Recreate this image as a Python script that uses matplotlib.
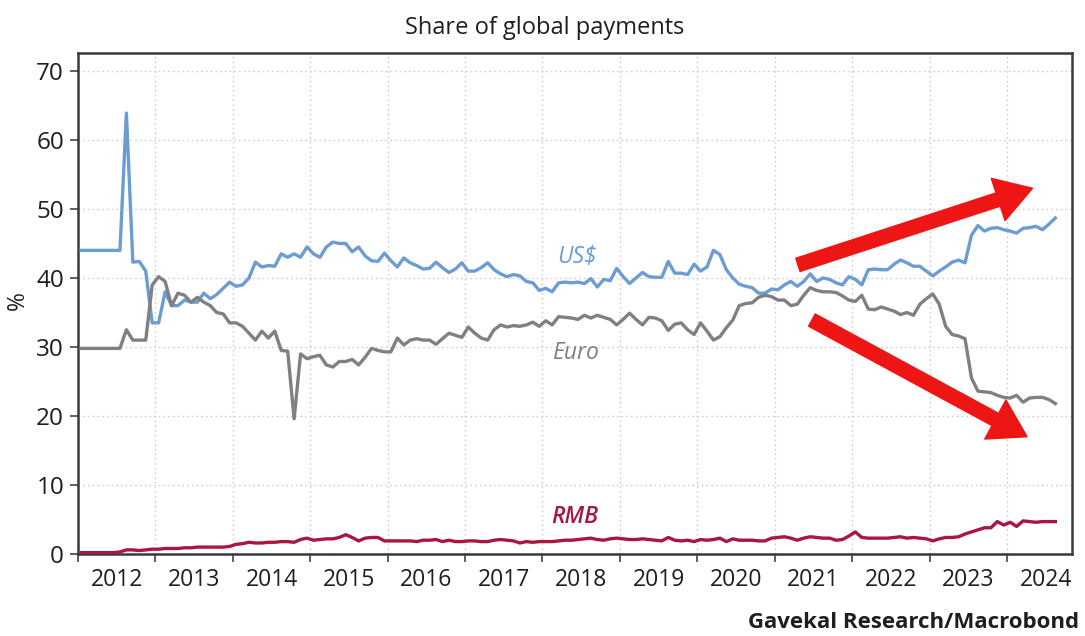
import numpy as np
import matplotlib.pyplot as plt
from matplotlib.ticker import FixedLocator, NullFormatter

plt.rcParams['font.family'] = ['Open Sans', 'DejaVu Sans']

# monthly shares (%), Jan 2012 .. Aug 2024, one row per year
usd = [
    44.0, 44.0, 44.0, 44.0, 44.0, 44.0, 44.0, 63.9, 42.3, 42.4, 41.0, 33.5,
    33.5, 38.0, 36.0, 36.0, 36.8, 36.5, 36.5, 37.8, 37.0, 37.6, 38.5, 39.4,
    38.8, 39.0, 40.0, 42.3, 41.6, 41.8, 41.7, 43.5, 43.0, 43.5, 43.0, 44.5,
    43.5, 43.0, 44.5, 45.2, 45.0, 45.0, 43.8, 44.5, 43.2, 42.5, 42.4, 43.6,
    42.5, 41.6, 42.9, 42.2, 41.8, 41.3, 41.4, 42.3, 41.5, 40.8, 41.3, 42.2,
    41.0, 41.0, 41.5, 42.2, 41.2, 40.6, 40.2, 40.5, 40.3, 39.5, 39.3, 38.2,
    38.5, 38.0, 39.3, 39.4, 39.3, 39.4, 39.2, 39.9, 38.7, 39.8, 39.6, 41.4,
    40.2, 39.2, 40.0, 40.8, 40.2, 40.1, 40.1, 42.4, 40.7, 40.7, 40.5, 42.0,
    41.0, 41.6, 44.0, 43.4, 41.2, 40.0, 39.1, 38.8, 38.6, 37.8, 37.8, 38.4,
    38.3, 39.0, 39.5, 38.8, 39.5, 40.6, 39.5, 40.0, 39.8, 39.3, 39.0, 40.2,
    39.8, 39.0, 41.2, 41.3, 41.2, 41.2, 42.0, 42.6, 42.2, 41.7, 41.7, 41.0,
    40.3, 41.0, 41.6, 42.3, 42.6, 42.2, 46.2, 47.6, 46.8, 47.2, 47.3, 47.0,
    46.8, 46.5, 47.2, 47.3, 47.5, 47.0, 47.8, 48.7,
]
eur = [
    29.8, 29.8, 29.8, 29.8, 29.8, 29.8, 29.8, 32.5, 31.0, 31.0, 31.0, 39.0,
    40.2, 39.5, 36.0, 37.8, 37.5, 36.5, 37.2, 36.5, 36.0, 35.0, 34.8, 33.5,
    33.5, 33.0, 32.0, 31.0, 32.3, 31.3, 32.3, 29.5, 29.4, 19.6, 29.0, 28.3,
    28.6, 28.8, 27.4, 27.1, 27.9, 27.9, 28.2, 27.4, 28.5, 29.8, 29.5, 29.3,
    29.3, 31.3, 30.3, 31.0, 31.2, 31.0, 31.0, 30.4, 31.2, 32.0, 31.7, 31.4,
    32.9, 32.0, 31.3, 31.0, 32.5, 33.2, 32.9, 33.1, 33.0, 33.2, 33.6, 33.0,
    33.8, 33.2, 34.4, 34.3, 34.2, 34.0, 34.6, 34.2, 34.6, 34.3, 34.0, 33.2,
    34.0, 34.9, 34.0, 33.2, 34.3, 34.2, 33.8, 32.4, 33.3, 33.5, 32.5, 31.8,
    33.5, 32.3, 31.0, 31.5, 32.8, 33.9, 36.0, 36.3, 36.4, 37.2, 37.5, 37.3,
    36.8, 36.8, 36.0, 36.2, 37.5, 38.6, 38.2, 38.0, 38.0, 37.9, 37.4, 36.8,
    36.6, 37.5, 35.5, 35.4, 35.8, 35.5, 35.2, 34.7, 35.0, 34.6, 36.2, 37.0,
    37.7, 36.2, 33.0, 31.8, 31.6, 31.2, 25.5, 23.6, 23.5, 23.4, 23.0, 22.7,
    22.6, 23.0, 22.0, 22.6, 22.7, 22.7, 22.4, 21.8,
]
rmb = [
    0.2, 0.2, 0.2, 0.2, 0.2, 0.2, 0.3, 0.6, 0.6, 0.5, 0.6, 0.7,
    0.7, 0.8, 0.8, 0.8, 0.9, 0.9, 1.0, 1.0, 1.0, 1.0, 1.0, 1.1,
    1.4, 1.5, 1.7, 1.6, 1.6, 1.7, 1.7, 1.8, 1.8, 1.7, 2.1, 2.3,
    2.0, 2.1, 2.2, 2.2, 2.4, 2.8, 2.4, 1.9, 2.3, 2.4, 2.4, 1.9,
    1.9, 1.9, 1.9, 1.9, 1.8, 2.0, 2.0, 2.1, 1.8, 2.0, 1.8, 1.8,
    1.9, 1.9, 1.8, 1.8, 2.0, 2.1, 2.0, 1.9, 1.6, 1.8, 1.7, 1.8,
    1.8, 1.8, 1.9, 2.0, 2.0, 2.1, 2.2, 2.3, 2.1, 2.0, 2.2, 2.3,
    2.2, 2.1, 2.1, 2.2, 2.1, 2.0, 1.9, 2.4, 2.0, 1.9, 2.0, 1.8,
    2.1, 2.0, 2.1, 2.3, 1.8, 2.2, 2.0, 2.0, 2.0, 1.9, 1.9, 2.3,
    2.4, 2.5, 2.3, 2.0, 2.3, 2.5, 2.4, 2.3, 2.3, 2.0, 2.1, 2.6,
    3.2, 2.4, 2.3, 2.3, 2.3, 2.3, 2.4, 2.5, 2.3, 2.4, 2.3, 2.2,
    1.9, 2.2, 2.4, 2.4, 2.5, 2.9, 3.2, 3.5, 3.8, 3.8, 4.7, 4.2,
    4.6, 4.0, 4.8, 4.7, 4.6, 4.7, 4.7, 4.7,
]
years = list(range(2012, 2025))
y_ticks = [0, 10, 20, 30, 40, 50, 60, 70]

c_usd = '#6b9cd2'
c_eur = '#808080'
c_rmb = '#a8173f'
c_arrow = '#ee1515'
c_text = '#1e1e1e'

# months plotted at mid-month
t = 2012 + (np.arange(len(usd)) + 0.5) / 12

fig = plt.figure(figsize=(10.85, 6.36), dpi=100)
ax = fig.add_axes([0.0719, 0.1289, 0.9161, 0.7877])

ax.plot(t, usd, color=c_usd, lw=2.4, zorder=3)
ax.plot(t, eur, color=c_eur, lw=2.4, zorder=3)
ax.plot(t, rmb, color=c_rmb, lw=2.4, zorder=3)

ax.set_xlim(2012, 2024.84)
ax.set_ylim(0, 72.6)

# year boundaries carry the tick marks, mid-year positions carry the labels
ax.xaxis.set_major_locator(FixedLocator(years))
ax.xaxis.set_major_formatter(NullFormatter())
ax.xaxis.set_minor_locator(FixedLocator([y + 0.5 for y in years]))
ax.set_xticklabels([str(y) for y in years], minor=True)
ax.tick_params(axis='x', which='major', length=6, width=1.2, color='#444444')
ax.tick_params(axis='x', which='minor', length=0, pad=10, labelsize=16.5, labelcolor=c_text)
ax.set_yticks(y_ticks)
ax.tick_params(axis='y', length=6, width=1.2, color='#444444', pad=4, labelsize=17.5, labelcolor=c_text)

ax.grid(True, which='major', color='#cfcfcf', lw=1.0, ls=(0, (1.2, 2.2)), zorder=0)
for s in ax.spines.values():
    s.set_color('#3a3a3a')
    s.set_linewidth(1.8)

ax.text(2018.45, 43.0, 'US$', color=c_usd, fontsize=16.5, style='italic', ha='center', va='center')
ax.text(2018.42, 29.1, 'Euro', color=c_eur, fontsize=16.5, style='italic', ha='center', va='center')
ax.text(2018.42, 5.4, 'RMB', color=c_rmb, fontsize=16.5, style='italic', fontweight='semibold',
        ha='center', va='center')

arrow_style = 'simple,head_length=1.3,head_width=1.6,tail_width=0.5'
ax.annotate('', xy=(2024.33, 53.0), xytext=(2021.30, 41.9),
            arrowprops=dict(arrowstyle=arrow_style, color=c_arrow, mutation_scale=20,
                            shrinkA=0, shrinkB=0), zorder=5)
ax.annotate('', xy=(2024.26, 17.0), xytext=(2021.48, 33.9),
            arrowprops=dict(arrowstyle=arrow_style, color=c_arrow, mutation_scale=20,
                            shrinkA=0, shrinkB=0), zorder=5)

fig.text(0.502, 0.956, 'Share of global payments', ha='center', va='center', fontsize=17, color=c_text)
fig.text(0.0166, 0.528, '%', rotation=90, ha='center', va='center', fontsize=16.5, color=c_text)
fig.text(0.995, 0.022, 'Gavekal Research/Macrobond', ha='right', va='center',
         fontsize=16, fontweight='bold', color=c_text)

fig.savefig('out.png', dpi=100)
